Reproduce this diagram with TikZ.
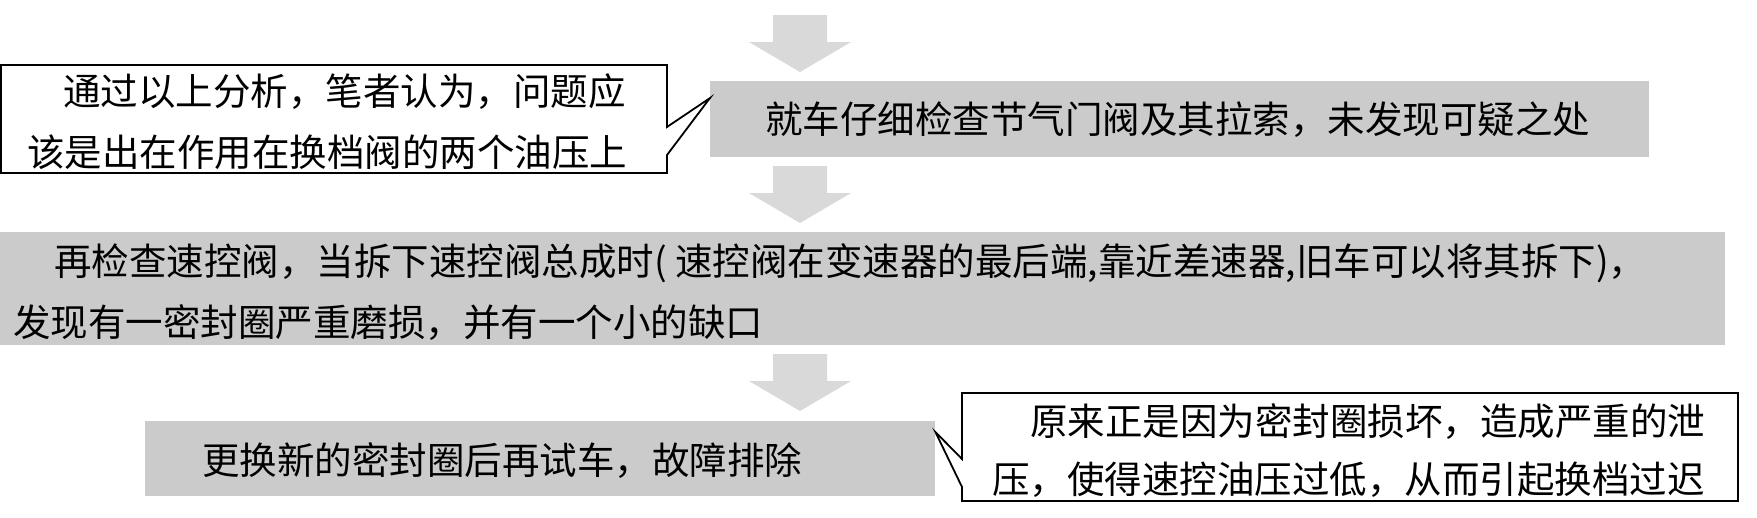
\documentclass[tikz,border=0pt]{standalone}
\usepackage{fontspec}
\newfontfamily\cjk{Noto Sans CJK SC}
\definecolor{boxgray}{HTML}{CBCBCB}
\definecolor{arrowgray}{HTML}{D9D9D9}
\begin{document}
\begin{tikzpicture}[x=1pt,y=-1pt,
  graybox/.style={fill=boxgray,draw=none,anchor=north west,inner sep=0pt},
  boxtxt/.style={anchor=west,inner sep=0pt,font=\cjk\fontsize{37.5}{45}\selectfont,text height=33pt,text depth=4.5pt},
  calltxt/.style={anchor=west,inner sep=0pt,font=\cjk\fontsize{37.5}{45}\selectfont,text height=33pt,text depth=4.5pt},
  calloutline/.style={draw=black,line width=1.8pt,fill=white,line join=miter},
  blockarrow/.style={fill=arrowgray,draw=none}]
\useasboundingbox (0,0) rectangle (1757,517);
\fill[white] (0,0) rectangle (1757,517);

% block arrows
\foreach \yy/\nm in {15/a1,166/a2,354/a3}{
  \coordinate (\nm) at (800,\yy);
  \fill[blockarrow,shift={(\nm)}] (-27,0) -- (27,0) -- (27,27) -- (51,27) -- (0,57) -- (-51,27) -- (-27,27) -- cycle;
}

% gray boxes
\node[graybox,minimum width=939pt,minimum height=76pt] (b1) at (710,81) {};
\node[graybox,minimum width=1725pt,minimum height=113pt] (b2) at (0,232) {};
\node[graybox,minimum width=790pt,minimum height=75pt] (b3) at (145,421) {};

% callout 1
\coordinate (c1tip) at (b1.west |- 0,98);
\draw[calloutline] (1,65) -- (667,65) -- (667,127) -- (c1tip) -- (667,155) -- (667,173) -- (1,173) -- cycle;
% callout 2
\coordinate (c2tip) at (b3.east |- 0,432);
\draw[calloutline] (962,393) -- (1738,393) -- (1738,501) -- (962,501) -- (962,487) -- (c2tip) -- (962,459) -- cycle;

% texts
\node[boxtxt] (t1) at (765,119) {就车仔细检查节气门阀及其拉索，未发现可疑之处};
\node[boxtxt] (t2a) at (54,261) {再检查速控阀，当拆下速控阀总成时( 速控阀在变速器的最后端,靠近差速器,旧车可以将其拆下)，};
\node[boxtxt] (t2b) at (13,322) {发现有一密封圈严重磨损，并有一个小的缺口};
\node[boxtxt] (t3) at (202,460) {更换新的密封圈后再试车，故障排除};

\node[calltxt] (k1a) at (63,91) {通过以上分析，笔者认为，问题应};
\node[calltxt] (k1b) at (27,152) {该是出在作用在换档阀的两个油压上};
\node[calltxt] (k2a) at (1030,421) {原来正是因为密封圈损坏，造成严重的泄};
\node[calltxt] (k2b) at (992,479) {压，使得速控油压过低，从而引起换档过迟};
\end{tikzpicture}
\end{document}
